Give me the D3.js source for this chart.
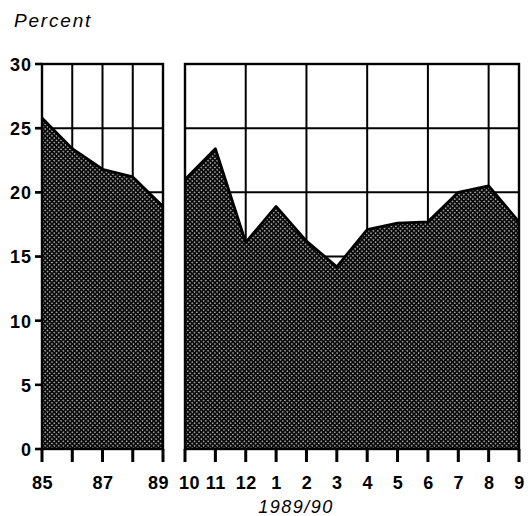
<!DOCTYPE html>
<html><head><meta charset="utf-8">
<script src="https://cdn.jsdelivr.net/npm/d3@7"></script>
<style>
html,body{margin:0;padding:0;background:#fff;}
svg{display:block;}
.ax text{font-family:"Liberation Sans",Arial,sans-serif;font-weight:bold;font-size:18px;fill:#000;}
</style></head>
<body><svg id="c" width="528" height="516"></svg>
<script>
// ---- data ----
const years = [85, 86, 87, 88, 89];
const yearValues = [25.8, 23.4, 21.8, 21.2, 18.9];
const yearLabels = ["85", "", "87", "", "89"];
const months = ["10", "11", "12", "1", "2", "3", "4", "5", "6", "7", "8", "9"];
const monthValues = [21.0, 23.4, 16.1, 18.9, 16.2, 14.2, 17.1, 17.6, 17.7, 20.0, 20.5, 17.7];
const monthGrid = ["10", "12", "2", "4", "6", "8", "9"];
const yTicks = [0, 5, 10, 15, 20, 25, 30];
const yTitle = "Percent";
const xTitle = "1989/90";

const svg = d3.select("#c");
const defs = svg.append("defs");
const pat = defs.append("pattern").attr("id", "stip").attr("patternUnits", "userSpaceOnUse")
  .attr("width", 3.2).attr("height", 3.2).attr("patternTransform", "rotate(45)");
pat.append("rect").attr("width", 3.2).attr("height", 3.2).attr("fill", "#0a0a0a");
pat.append("circle").attr("cx", 1.6).attr("cy", 1.6).attr("r", 0.7).attr("fill", "#fff");

const y = d3.scaleLinear().domain([0, 30]).range([449, 64]);
const xL = d3.scaleLinear().domain([85, 89]).range([42, 163]);
const xR = d3.scalePoint().domain(months).range([185, 519]);

const gridW = 2;

function panel(xs, xVals, vals, gridXs, x0, x1) {
  const g = svg.append("g");
  g.selectAll(".h").data(yTicks).join("line")
    .attr("x1", x0).attr("x2", x1).attr("y1", d => y(d)).attr("y2", d => y(d))
    .attr("stroke", "#000").attr("stroke-width", gridW);
  g.selectAll(".v").data(gridXs).join("line")
    .attr("x1", d => xs(d)).attr("x2", d => xs(d)).attr("y1", y(30)).attr("y2", y(0))
    .attr("stroke", "#000").attr("stroke-width", gridW);
  const pts = xVals.map((d, i) => [xs(d), y(vals[i])]);
  const area = d3.area().x(d => d[0]).y0(y(0)).y1(d => d[1]);
  g.append("path").datum(pts).attr("d", area).attr("fill", "url(#stip)");
  const line = d3.line().x(d => d[0]).y(d => d[1]);
  g.append("path").datum(pts).attr("d", line).attr("fill", "none")
    .attr("stroke", "#000").attr("stroke-width", 2.8).attr("stroke-linejoin", "round");
  g.append("rect").attr("x", x0).attr("y", y(30)).attr("width", x1 - x0).attr("height", y(0) - y(30))
    .attr("fill", "none").attr("stroke", "#000").attr("stroke-width", 2.4);
  // bottom ticks
  g.selectAll(".bt").data(xVals).join("line")
    .attr("x1", d => xs(d)).attr("x2", d => xs(d)).attr("y1", y(0)).attr("y2", y(0) + 13)
    .attr("stroke", "#000").attr("stroke-width", 3);
  return g;
}

panel(xL, years, yearValues, years, 42, 163);
panel(xR, months, monthValues, monthGrid, 185, 519);

// y ticks
svg.append("g").selectAll("line").data(yTicks).join("line")
  .attr("x1", 35).attr("x2", 42).attr("y1", d => y(d)).attr("y2", d => y(d))
  .attr("stroke", "#000").attr("stroke-width", 2.6);

// y axis labels
const ya = svg.append("g").attr("class", "ax").attr("transform", "translate(42,0)")
  .call(d3.axisLeft(y).tickValues(yTicks).tickSize(7).tickPadding(3));
ya.select(".domain").remove();
ya.selectAll(".tick text").attr("dy", "0.36em").attr("letter-spacing", "1px");

// x axes labels
const xa1 = svg.append("g").attr("class", "ax").attr("transform", "translate(0,449)")
  .call(d3.axisBottom(xL).tickValues(years).tickSize(13).tickPadding(14)
    .tickFormat((d, i) => yearLabels[i]));
const xa2 = svg.append("g").attr("class", "ax").attr("transform", "translate(0,449)")
  .call(d3.axisBottom(xR).tickSize(13).tickPadding(14));
[xa1, xa2].forEach(a => {
  a.select(".domain").remove();
  a.selectAll(".tick text").attr("dy", "0.71em").attr("letter-spacing", "0.5px");
});
xa1.selectAll(".tick text").filter(d => d === 89).attr("dx", -5);
xa2.selectAll(".tick text").filter(d => d === "10").attr("dx", 4);

svg.append("text").attr("x", 14).attr("y", 27).text(yTitle)
  .attr("font-family", "Liberation Sans, Arial, sans-serif").attr("font-style", "italic")
  .attr("font-size", 19).attr("letter-spacing", "1.8px");
svg.append("text").attr("x", 296).attr("y", 513).attr("text-anchor", "middle").text(xTitle)
  .attr("font-family", "Liberation Sans, Arial, sans-serif").attr("font-style", "italic")
  .attr("font-size", 18).attr("letter-spacing", "1.5px");
</script></body></html>
